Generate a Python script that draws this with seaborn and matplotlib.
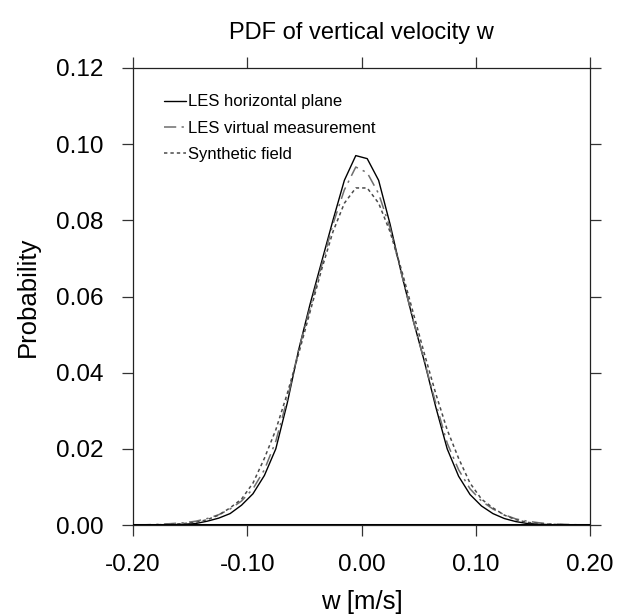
import matplotlib
matplotlib.use("Agg")
import matplotlib.pyplot as plt
import seaborn as sns
import pandas as pd

# bin centres of w [m/s]
w = [-0.195, -0.185, -0.175, -0.165, -0.155, -0.145, -0.135, -0.125, -0.115, -0.105,
     -0.095, -0.085, -0.075, -0.065, -0.055, -0.045, -0.035, -0.025, -0.015, -0.005,
     0.005, 0.015, 0.025, 0.035, 0.045, 0.055, 0.065, 0.075, 0.085, 0.095,
     0.105, 0.115, 0.125, 0.135, 0.145, 0.155, 0.165, 0.175, 0.185, 0.195]

les_plane = [0.0000, 0.0000, 0.0000, 0.0001, 0.0002, 0.0004, 0.0010, 0.0018, 0.0030, 0.0052,
             0.0082, 0.0130, 0.0200, 0.0320, 0.0460, 0.0580, 0.0690, 0.0800, 0.0905, 0.0970,
             0.0962, 0.0905, 0.0790, 0.0660, 0.0540, 0.0430, 0.0310, 0.0200, 0.0128, 0.0080,
             0.0050, 0.0030, 0.0017, 0.0009, 0.0004, 0.0002, 0.0001, 0.0000, 0.0000, 0.0000]

les_virtual = [0.0000, 0.0001, 0.0002, 0.0004, 0.0006, 0.0010, 0.0017, 0.0027, 0.0042, 0.0063,
               0.0095, 0.0145, 0.0220, 0.0330, 0.0460, 0.0570, 0.0680, 0.0790, 0.0880, 0.0940,
               0.0925, 0.0870, 0.0780, 0.0660, 0.0540, 0.0430, 0.0320, 0.0215, 0.0145, 0.0095,
               0.0063, 0.0042, 0.0027, 0.0016, 0.0010, 0.0006, 0.0003, 0.0002, 0.0001, 0.0000]

synthetic = [0.0000, 0.0000, 0.0001, 0.0002, 0.0004, 0.0007, 0.0014, 0.0026, 0.0045, 0.0068,
             0.0110, 0.0175, 0.0250, 0.0345, 0.0450, 0.0560, 0.0670, 0.0770, 0.0845, 0.0885,
             0.0885, 0.0845, 0.0770, 0.0670, 0.0560, 0.0450, 0.0345, 0.0250, 0.0175, 0.0110,
             0.0068, 0.0045, 0.0026, 0.0014, 0.0007, 0.0004, 0.0002, 0.0001, 0.0000, 0.0000]

labels = ["LES horizontal plane", "LES virtual measurement", "Synthetic field"]
xticks = [-0.20, -0.10, 0.00, 0.10, 0.20]
xticklabels = ["-0.20", "-0.10", "0.00", "0.10", "0.20"]
yticks = [0.00, 0.02, 0.04, 0.06, 0.08, 0.10, 0.12]
yticklabels = ["0.00", "0.02", "0.04", "0.06", "0.08", "0.10", "0.12"]

sns.set_style("ticks")
plt.rcParams['font.family'] = ['Liberation Sans', 'DejaVu Sans']
plt.rcParams['text.color'] = 'black'
plt.rcParams['axes.labelcolor'] = 'black'
plt.rcParams['xtick.labelcolor'] = 'black'
plt.rcParams['ytick.labelcolor'] = 'black'

df = pd.DataFrame({"w": w * 3,
                   "p": les_plane + les_virtual + synthetic,
                   "series": [labels[0]] * len(w) + [labels[1]] * len(w) + [labels[2]] * len(w)})

fig = plt.figure(figsize=(6.18, 6.14), dpi=100)
ax = fig.add_axes([133 / 618, 1 - 525 / 614, (590 - 133) / 618, (525 - 68) / 614])

styles = {
    labels[0]: dict(color="black", lw=1.0, dashes=None),
    labels[1]: dict(color="#6e6e6e", lw=1.1, dashes=(8, 3.5, 1.5, 3.5)),
    labels[2]: dict(color="#4a4a4a", lw=1.1, dashes=(2.2, 2.0)),
}
for lab in labels:
    sub = df[df["series"] == lab]
    st = styles[lab]
    sns.lineplot(data=sub, x="w", y="p", ax=ax, color=st["color"], lw=st["lw"], label=lab)
    line = ax.get_lines()[-1]
    if st["dashes"] is not None:
        line.set_dashes(st["dashes"])

ax.axhline(0, color="black", lw=2.2, zorder=5)
ax.set_xlim(-0.2, 0.2)
ax.set_ylim(0, 0.12)
ax.set_xticks(xticks)
ax.set_xticklabels(xticklabels)
ax.set_yticks(yticks)
ax.set_yticklabels(yticklabels)
ax.tick_params(direction="out", length=8, width=0.9, top=True, right=True,
               labelsize=17.5, pad=13, color="#333333", labelcolor="black")
for s in ax.spines.values():
    s.set_linewidth(0.9)
    s.set_color("#222222")
ax.set_xlabel("w [m/s]", fontsize=18.5, labelpad=10, color="black")
ax.set_ylabel("Probability", fontsize=18.5, labelpad=12, color="black")
ax.set_title("PDF of vertical velocity w", fontsize=17, pad=21, color="black")

leg = ax.legend(loc="upper left", frameon=False, fontsize=12, handlelength=1.35,
                handletextpad=0.1, labelspacing=0.68, bbox_to_anchor=(0.035, 0.975))
for t in leg.get_texts():
    t.set_color("black")

fig.savefig("out.png", dpi=100)
